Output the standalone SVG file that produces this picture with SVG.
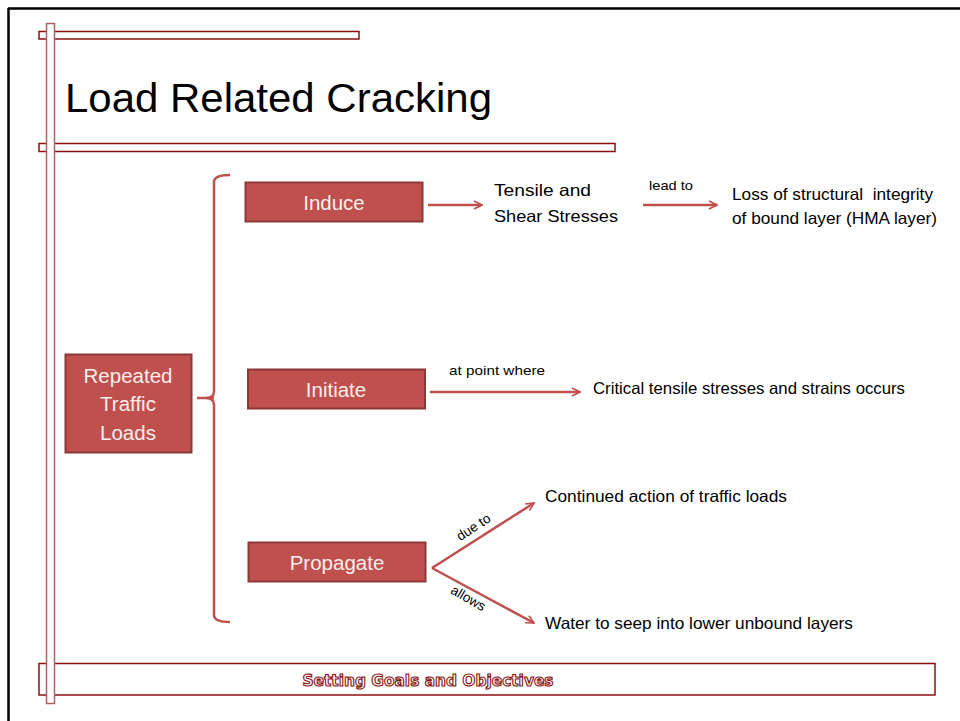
<svg xmlns="http://www.w3.org/2000/svg" width="960" height="721" viewBox="0 0 960 721">
  <defs>
    <style>
      .bar { fill: #ffffff; stroke: #8b1010; stroke-width: 1.5; }
      .vbar { fill: #ffffff; stroke: #b06262; stroke-width: 1.5; }
      .box { fill: #c0504d; stroke: #8c3836; stroke-width: 2; }
      .boxtxt { font-family: "Liberation Sans", Arial, sans-serif; font-size: 20.5px; fill: #fbeeee; text-anchor: middle; }
      .txt { font-family: "Liberation Sans", Arial, sans-serif; font-size: 16.5px; fill: #000000; white-space: pre; }
      .lbl { font-family: "Liberation Sans", Arial, sans-serif; font-size: 13.5px; fill: #000000; }
      .conn { fill: none; stroke: #c0504d; stroke-width: 2.5; }
      .brace { fill: none; stroke: #c0504d; stroke-width: 2.5; }
    </style>
    <marker id="arrow" viewBox="0 0 10 10" refX="9" refY="5" markerWidth="4" markerHeight="4" orient="auto" markerUnits="strokeWidth">
      <path d="M1,1 L9,5 L1,9" fill="none" stroke="#c0504d" stroke-width="1.6"/>
    </marker>
  </defs>

  <rect width="960" height="721" fill="#ffffff"/>

  <!-- slide frame -->
  <line x1="8" y1="8.5" x2="960" y2="8.5" stroke="#000000" stroke-width="2.5"/>
  <line x1="8.5" y1="8" x2="8.5" y2="721" stroke="#000000" stroke-width="2.5"/>

  <!-- decorative rails -->
  <g id="rails">
    <rect class="bar" x="39" y="31.5" width="320" height="7.5"/>
    <rect class="bar" x="39" y="143.5" width="576" height="8"/>
    <rect class="bar" x="39" y="663.5" width="896" height="31.5"/>
    <rect class="vbar" x="46.5" y="23.5" width="8" height="680"/>
  </g>

  <!-- title -->
  <text x="65" y="112" font-family="Liberation Sans, Arial, sans-serif" font-size="41" fill="#000000" textLength="427" lengthAdjust="spacingAndGlyphs">Load Related Cracking</text>

  <!-- footer -->
  <text x="428" y="686" font-family="DejaVu Sans, Verdana, sans-serif" font-size="15.5" font-weight="bold" fill="#ffffff" stroke="#8b1010" stroke-width="1.1" text-anchor="middle" textLength="251" lengthAdjust="spacingAndGlyphs">Setting Goals and Objectives</text>

  <!-- connectors -->
  <g id="connectors">
    <path class="brace" d="M230,175 Q214,175 214,182 L214,391 Q214,398 206,398 Q214,398 214,405 L214,615 Q214,622 230,622"/>
    <line class="brace" x1="197" y1="398" x2="214" y2="398"/>
    <line class="conn" x1="428" y1="205" x2="482" y2="205" marker-end="url(#arrow)"/>
    <line class="conn" x1="643" y1="205" x2="717" y2="205" marker-end="url(#arrow)"/>
    <line class="conn" x1="430" y1="392" x2="580" y2="392" marker-end="url(#arrow)"/>
    <line class="conn" x1="432" y1="568" x2="534" y2="503" marker-end="url(#arrow)"/>
    <line class="conn" x1="432" y1="568" x2="534" y2="623" marker-end="url(#arrow)"/>
    <text class="lbl" x="649" y="190" textLength="44" lengthAdjust="spacingAndGlyphs">lead to</text>
    <text class="lbl" x="449" y="375" textLength="96" lengthAdjust="spacingAndGlyphs">at point where</text>
    <text class="lbl" transform="translate(476,531) rotate(-33)" text-anchor="middle">due to</text>
    <text class="lbl" transform="translate(466,602) rotate(30)" text-anchor="middle">allows</text>
  </g>

  <!-- nodes -->
  <g id="repeated-loads">
    <rect class="box" x="65.5" y="354.5" width="126" height="98"/>
    <text class="boxtxt" x="128" y="383">Repeated</text>
    <text class="boxtxt" x="128" y="411">Traffic</text>
    <text class="boxtxt" x="128" y="440">Loads</text>
  </g>

  <g id="induce">
    <rect class="box" x="245.5" y="182.5" width="177" height="39"/>
    <text class="boxtxt" x="334" y="210">Induce</text>
  </g>

  <g id="initiate">
    <rect class="box" x="248" y="369.5" width="177" height="39"/>
    <text class="boxtxt" x="336" y="397">Initiate</text>
  </g>

  <g id="propagate">
    <rect class="box" x="248.5" y="542.5" width="177" height="39"/>
    <text class="boxtxt" x="337" y="570">Propagate</text>
  </g>

  <g id="stresses">
    <text class="txt" x="494" y="196" font-size="18" textLength="97" lengthAdjust="spacingAndGlyphs">Tensile and</text>
    <text class="txt" x="494" y="222" font-size="18" textLength="124" lengthAdjust="spacingAndGlyphs">Shear Stresses</text>
  </g>

  <g id="integrity-loss">
    <text class="txt" x="732" y="200" textLength="201" lengthAdjust="spacingAndGlyphs">Loss of structural  integrity</text>
    <text class="txt" x="732" y="224" textLength="205" lengthAdjust="spacingAndGlyphs">of bound layer (HMA layer)</text>
  </g>

  <g id="critical-stresses">
    <text class="txt" x="593" y="394" textLength="312" lengthAdjust="spacingAndGlyphs">Critical tensile stresses and strains occurs</text>
  </g>

  <g id="continued-action">
    <text class="txt" x="545" y="502" textLength="242" lengthAdjust="spacingAndGlyphs">Continued action of traffic loads</text>
  </g>

  <g id="water-seep">
    <text class="txt" x="545" y="629" textLength="308" lengthAdjust="spacingAndGlyphs">Water to seep into lower unbound layers</text>
  </g>
</svg>
